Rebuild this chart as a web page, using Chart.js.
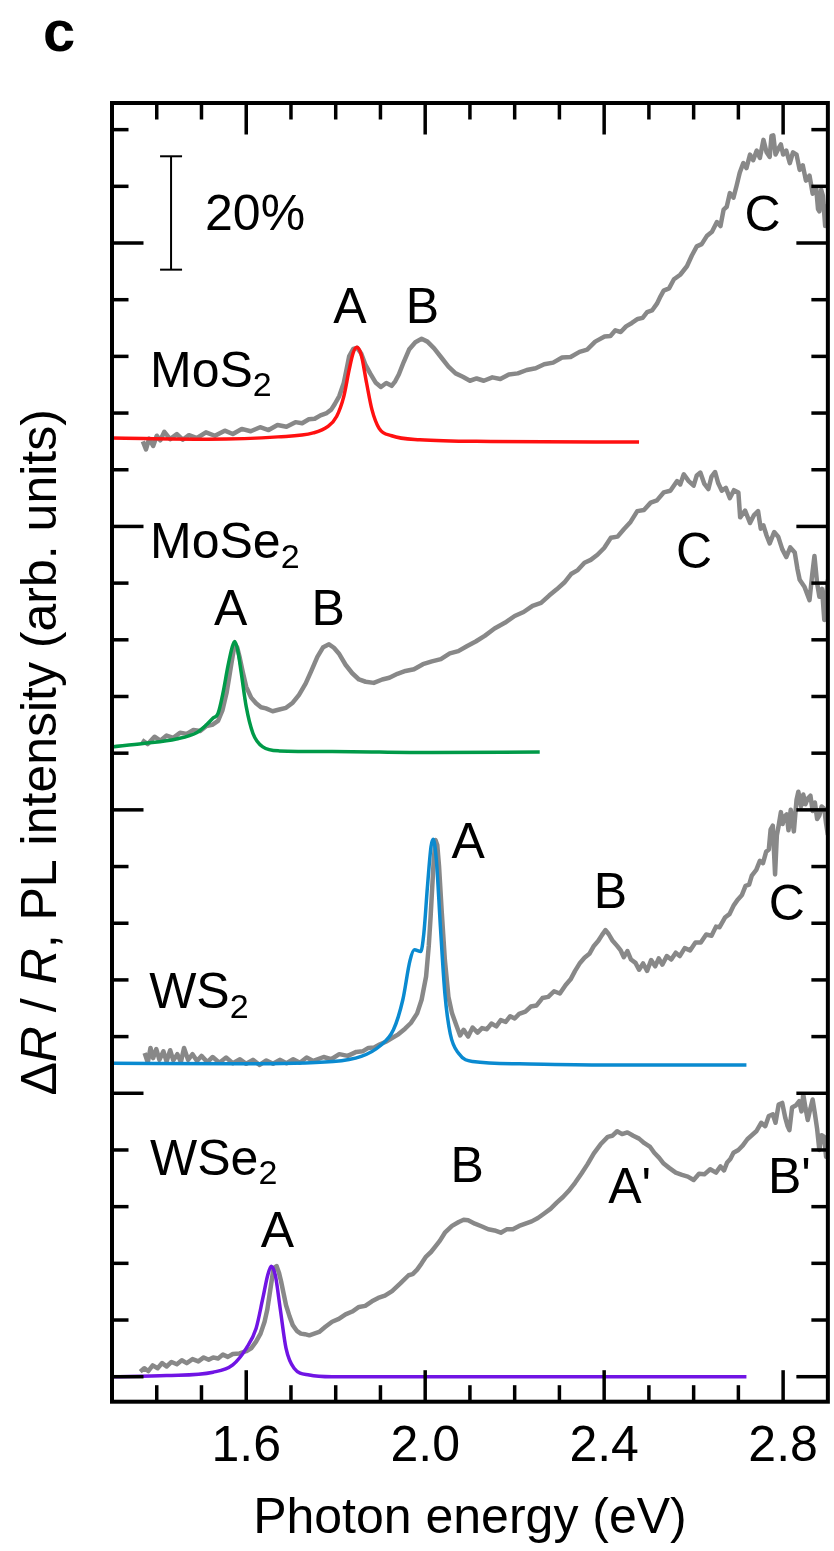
<!DOCTYPE html>
<html>
<head>
<meta charset="utf-8">
<script src="https://cdn.jsdelivr.net/npm/chart.js@4.4.0/dist/chart.umd.min.js"></script>
<style>
  html, body { margin: 0; padding: 0; background: #ffffff; }
  #wrap { width: 834px; height: 1551px; }
  canvas { display: block; }
</style>
</head>
<body>
<div id="wrap"><canvas id="spectra" width="834" height="1551"></canvas></div>
<script>
// Photon energy (eV) vs. signal (%), spectra stacked with vertical offsets.
// Grey: reflectance contrast ΔR/R; coloured: photoluminescence.

const mos2Reflect = [
  [1.369,165.0],[1.376,163.6],[1.383,165.5],[1.392,164.2],[1.400,166.0],[1.408,165.2],
  [1.417,166.7],[1.430,165.4],[1.445,166.3],[1.458,165.3],[1.472,166.1],[1.490,165.6],
  [1.510,166.6],[1.530,166.0],[1.552,166.9],[1.570,166.3],[1.590,167.2],[1.610,166.8],
  [1.631,167.5],[1.650,167.0],[1.670,167.9],[1.690,167.6],[1.710,168.4],[1.725,168.2],
  [1.740,168.9],[1.753,169.0],[1.766,169.6],[1.780,170.0],[1.790,170.6],[1.798,171.6],
  [1.808,173.0],[1.818,175.3],[1.824,177.6],[1.830,180.0],[1.839,181.3],[1.848,181.5],
  [1.857,180.5],[1.866,178.6],[1.877,177.0],[1.889,175.4],[1.901,174.6],[1.913,175.3],
  [1.925,174.8],[1.933,175.6],[1.941,176.8],[1.952,179.0],[1.964,181.2],[1.978,182.5],
  [1.992,183.1],[2.005,182.6],[2.020,181.4],[2.036,179.8],[2.052,178.2],[2.068,177.0],
  [2.084,176.4],[2.100,175.7],[2.115,176.1],[2.131,175.7],[2.150,176.3],[2.168,176.0],
  [2.187,176.8],[2.207,177.0],[2.227,177.6],[2.247,177.9],[2.266,178.6],[2.286,178.9],
  [2.306,179.8],[2.325,179.9],[2.345,180.8],[2.362,181.2],[2.380,182.6],[2.401,183.5],
  [2.414,183.6],[2.425,184.6],[2.437,184.3],[2.449,185.3],[2.462,185.9],[2.475,186.6],
  [2.486,186.8],[2.496,187.8],[2.507,188.1],[2.518,189.3],[2.526,190.6],[2.533,191.6],
  [2.545,192.0],[2.556,193.6],[2.570,194.4],[2.585,195.9],[2.596,197.8],[2.607,199.4],
  [2.618,199.8],[2.630,201.3],[2.641,202.0],[2.652,203.7],[2.660,203.0],[2.667,205.9],
  [2.674,206.4],[2.681,208.8],[2.689,208.0],[2.696,210.1],[2.703,212.4],[2.711,214.1],
  [2.718,213.2],[2.726,215.6],[2.733,214.6],[2.741,216.3],[2.748,215.0],[2.756,218.2],
  [2.763,216.0],[2.770,215.2],[2.774,218.9],[2.778,219.0],[2.783,215.6],[2.789,216.6],
  [2.795,217.4],[2.800,215.6],[2.807,216.3],[2.815,214.1],[2.822,216.0],[2.830,215.6],
  [2.837,212.9],[2.844,213.7],[2.851,211.0],[2.859,211.9],[2.866,208.7],[2.874,209.6],
  [2.878,206.0],[2.881,205.6],[2.885,209.4],[2.889,208.3],[2.894,203.0],[2.897,206.5],
  [2.900,203.5]
];
const mos2PL = [
  [1.300,165.6],[1.512,165.4],[1.671,165.8],[1.750,166.5],[1.782,167.6],[1.802,169.4],
  [1.818,172.9],[1.830,177.6],[1.839,180.6],[1.847,181.6],[1.857,180.3],[1.869,175.3],
  [1.881,170.6],[1.897,167.3],[1.925,166.0],[1.988,165.3],[2.147,165.0],[2.478,164.9]
];

const mose2Reflect = [
  [1.367,112.3],[1.380,111.6],[1.395,112.9],[1.408,112.2],[1.422,113.1],[1.437,112.7],
  [1.452,113.6],[1.467,113.4],[1.482,114.1],[1.497,113.9],[1.511,114.8],[1.524,115.0],
  [1.537,115.7],[1.547,117.6],[1.556,120.6],[1.562,123.4],[1.567,125.9],[1.572,128.2],
  [1.576,129.1],[1.580,128.6],[1.585,127.0],[1.592,124.4],[1.600,121.7],[1.611,119.8],
  [1.622,118.8],[1.633,118.1],[1.644,117.9],[1.659,117.4],[1.674,117.7],[1.689,118.0],
  [1.704,118.9],[1.718,120.3],[1.733,122.3],[1.746,124.6],[1.759,127.0],[1.772,128.7],
  [1.785,129.2],[1.796,128.6],[1.807,127.6],[1.822,125.6],[1.837,124.1],[1.852,123.0],
  [1.867,122.6],[1.885,122.4],[1.904,123.0],[1.920,123.3],[1.938,124.0],[1.956,124.5],
  [1.975,124.8],[1.995,125.7],[2.015,126.2],[2.035,126.6],[2.055,127.6],[2.074,128.0],
  [2.094,128.9],[2.113,129.7],[2.133,130.7],[2.155,132.0],[2.178,133.0],[2.200,134.2],
  [2.220,134.9],[2.240,136.0],[2.259,136.5],[2.277,137.8],[2.294,138.9],[2.311,140.1],
  [2.326,141.6],[2.341,142.3],[2.356,143.6],[2.370,144.1],[2.385,145.0],[2.400,146.2],
  [2.415,148.0],[2.430,148.2],[2.444,149.5],[2.459,150.8],[2.474,152.7],[2.489,152.9],
  [2.504,154.2],[2.518,154.6],[2.533,156.0],[2.548,156.3],[2.563,158.0],[2.570,157.4],
  [2.578,159.2],[2.589,158.0],[2.600,157.2],[2.607,159.0],[2.615,159.5],[2.624,157.5],
  [2.633,156.6],[2.640,158.8],[2.648,159.6],[2.655,157.6],[2.663,156.3],[2.672,156.8],
  [2.681,155.0],[2.690,156.4],[2.700,156.0],[2.704,151.6],[2.715,152.8],[2.726,150.6],
  [2.735,152.0],[2.744,152.7],[2.750,149.6],[2.756,150.2],[2.763,148.4],[2.770,147.0],
  [2.780,149.0],[2.789,148.2],[2.798,146.0],[2.807,144.6],[2.816,146.3],[2.826,145.4],
  [2.832,142.5],[2.837,140.6],[2.848,139.3],[2.859,137.0],[2.865,141.5],[2.870,144.8],
  [2.876,140.0],[2.881,137.6],[2.887,139.0],[2.892,133.5],[2.896,137.5],[2.900,140.6]
];
const mose2PL = [
  [1.300,111.1],[1.370,111.7],[1.444,112.5],[1.489,113.6],[1.511,115.0],[1.526,116.2],
  [1.537,117.0],[1.548,120.6],[1.559,125.3],[1.569,128.8],[1.574,129.7],[1.581,128.2],
  [1.589,124.1],[1.600,118.2],[1.615,113.5],[1.637,111.1],[1.674,110.4],[1.792,110.3],
  [2.015,110.1],[2.256,110.2]
];

const ws2Reflect = [
  [1.373,57.1],[1.380,55.4],[1.386,58.0],[1.392,56.2],[1.399,57.8],[1.406,55.9],
  [1.415,57.4],[1.422,55.6],[1.430,57.6],[1.437,55.8],[1.446,56.9],[1.454,55.5],
  [1.461,58.0],[1.470,55.9],[1.480,56.9],[1.490,55.7],[1.500,56.6],[1.513,55.5],
  [1.525,56.4],[1.540,55.4],[1.555,56.3],[1.570,55.3],[1.586,56.0],[1.600,55.2],
  [1.615,55.9],[1.630,55.0],[1.645,55.8],[1.660,55.2],[1.675,55.9],[1.690,55.3],
  [1.705,56.0],[1.720,55.4],[1.735,56.3],[1.750,55.7],[1.773,56.4],[1.790,56.0],
  [1.808,56.9],[1.827,56.6],[1.846,57.3],[1.860,57.4],[1.873,58.0],[1.886,58.1],
  [1.898,58.6],[1.912,59.1],[1.925,59.7],[1.940,60.4],[1.955,61.4],[1.968,62.4],
  [1.982,64.1],[1.992,66.5],[2.002,70.6],[2.008,76.0],[2.012,81.0],[2.015,85.3],
  [2.019,91.0],[2.023,94.7],[2.027,93.8],[2.031,90.0],[2.037,82.0],[2.044,73.5],
  [2.052,67.0],[2.060,64.1],[2.070,61.9],[2.078,60.2],[2.086,61.2],[2.096,60.0],
  [2.106,61.6],[2.117,60.7],[2.127,61.5],[2.138,61.3],[2.148,62.3],[2.159,61.8],
  [2.169,62.9],[2.180,62.6],[2.190,63.6],[2.200,63.2],[2.210,64.0],[2.224,64.4],
  [2.236,65.3],[2.249,65.5],[2.262,66.8],[2.275,67.0],[2.288,68.0],[2.301,67.6],
  [2.314,69.1],[2.325,70.1],[2.335,71.6],[2.346,73.0],[2.356,73.9],[2.367,74.6],
  [2.377,76.0],[2.387,76.9],[2.395,77.9],[2.403,78.8],[2.410,78.1],[2.418,77.0],
  [2.429,76.0],[2.437,75.2],[2.444,74.0],[2.452,75.1],[2.460,73.6],[2.470,73.0],
  [2.478,71.8],[2.487,72.9],[2.496,71.6],[2.505,73.5],[2.514,72.4],[2.522,73.8],
  [2.530,72.7],[2.540,74.2],[2.550,73.6],[2.560,74.8],[2.569,74.2],[2.580,75.6],
  [2.592,75.2],[2.604,76.6],[2.616,76.6],[2.628,78.0],[2.640,77.8],[2.650,79.4],
  [2.658,79.3],[2.670,81.0],[2.680,81.6],[2.690,83.2],[2.699,84.2],[2.708,85.0],
  [2.716,86.6],[2.724,86.8],[2.730,88.4],[2.740,89.4],[2.748,91.0],[2.755,90.6],
  [2.762,92.6],[2.768,93.0],[2.772,96.5],[2.777,97.2],[2.780,92.0],[2.782,88.6],
  [2.786,95.5],[2.790,97.2],[2.795,99.6],[2.799,97.5],[2.803,98.8],[2.808,99.2],
  [2.812,96.4],[2.817,100.0],[2.824,96.2],[2.830,101.8],[2.834,103.2],[2.840,100.6],
  [2.845,102.7],[2.850,101.0],[2.855,102.0],[2.861,102.5],[2.866,99.8],[2.871,101.3],
  [2.876,98.4],[2.881,99.0],[2.886,100.6],[2.892,100.2],[2.896,97.6],[2.900,95.6]
];
const ws2PL = [
  [1.300,55.3],[1.586,55.2],[1.794,55.6],[1.857,56.5],[1.898,58.3],[1.929,61.2],
  [1.950,66.5],[1.966,73.4],[1.976,75.3],[1.990,75.0],[1.997,78.2],[2.005,86.4],
  [2.013,93.5],[2.018,94.8],[2.025,91.1],[2.034,79.4],[2.044,67.6],[2.056,60.5],
  [2.075,57.0],[2.106,55.6],[2.210,55.2],[2.418,55.0],[2.718,55.0]
];

const wse2Reflect = [
  [1.363,0.9],[1.372,1.5],[1.381,1.0],[1.391,2.0],[1.402,1.5],[1.412,2.4],
  [1.422,1.8],[1.433,2.6],[1.445,2.2],[1.456,2.9],[1.467,2.4],[1.480,3.1],
  [1.493,2.7],[1.505,3.4],[1.516,3.0],[1.526,3.4],[1.537,3.2],[1.548,3.9],
  [1.559,3.5],[1.570,4.0],[1.585,4.1],[1.600,4.5],[1.611,5.0],[1.622,6.2],
  [1.632,7.6],[1.641,9.7],[1.647,11.8],[1.652,14.4],[1.657,17.0],[1.661,19.1],
  [1.668,19.5],[1.673,18.4],[1.678,16.8],[1.684,14.5],[1.689,12.6],[1.697,10.6],
  [1.704,9.1],[1.713,8.1],[1.722,7.6],[1.731,7.5],[1.741,7.3],[1.752,7.6],
  [1.763,7.9],[1.777,8.8],[1.792,9.7],[1.807,10.2],[1.822,11.0],[1.837,11.5],
  [1.852,12.3],[1.866,12.5],[1.881,13.3],[1.895,13.9],[1.910,14.3],[1.926,15.1],
  [1.945,16.5],[1.963,17.9],[1.972,18.1],[1.982,18.9],[1.992,20.0],[2.002,21.2],
  [2.013,22.0],[2.023,23.0],[2.033,24.0],[2.044,25.4],[2.060,26.6],[2.075,27.3],
  [2.086,27.7],[2.096,27.6],[2.111,27.0],[2.127,26.5],[2.141,26.0],[2.155,25.8],
  [2.169,25.4],[2.182,26.0],[2.196,26.0],[2.210,26.6],[2.224,27.0],[2.238,27.4],
  [2.252,28.0],[2.266,28.8],[2.280,29.6],[2.294,30.7],[2.308,31.7],[2.321,32.8],
  [2.335,34.2],[2.349,35.8],[2.363,37.5],[2.377,39.4],[2.392,41.0],[2.408,42.3],
  [2.418,42.5],[2.429,43.3],[2.440,42.8],[2.452,43.1],[2.465,42.5],[2.478,42.0],
  [2.490,41.2],[2.502,40.6],[2.512,39.5],[2.523,38.6],[2.533,37.6],[2.546,36.8],
  [2.560,36.0],[2.574,35.6],[2.587,35.3],[2.600,34.7],[2.612,35.8],[2.624,35.7],
  [2.637,36.6],[2.650,36.0],[2.660,37.1],[2.668,36.4],[2.675,37.8],[2.682,38.4],
  [2.689,39.5],[2.700,40.0],[2.710,40.8],[2.720,41.9],[2.730,42.6],[2.740,43.3],
  [2.751,44.8],[2.760,44.2],[2.768,46.0],[2.777,46.3],[2.783,44.8],[2.790,48.0],
  [2.798,48.3],[2.805,45.6],[2.810,44.2],[2.814,43.5],[2.820,47.5],[2.829,47.9],
  [2.836,48.6],[2.841,46.8],[2.845,49.8],[2.850,47.4],[2.855,45.3],[2.860,47.0],
  [2.866,48.9],[2.871,46.4],[2.876,43.7],[2.881,40.0],[2.886,42.6],[2.892,42.3],
  [2.896,38.8],[2.900,40.6]
];
const wse2PL = [
  [1.300,0.0],[1.422,0.2],[1.526,0.8],[1.570,2.1],[1.600,5.0],[1.622,8.5],
  [1.637,13.8],[1.648,17.9],[1.656,19.5],[1.665,17.9],[1.676,12.0],[1.689,5.0],
  [1.707,1.5],[1.741,0.3],[1.792,0.0],[2.718,0.0]
];

// Axis ticks
const energyLabels = [1.6, 2.0, 2.4, 2.8];
const energyMinor = [1.4, 1.5, 1.6, 1.7, 1.8, 1.9, 2.0, 2.1, 2.2, 2.3, 2.4, 2.5, 2.6, 2.7, 2.8];
const signalTicks = [0, 10, 20, 30, 40, 50, 60, 70, 80, 90, 100, 110, 120, 130, 140, 150,
                     160, 170, 180, 190, 200, 210, 220];
const signalMajor = [0, 50, 100, 150, 200];

// Text annotations: [label, energy, signal]
const materialNames = [['MoS', 1.385, 174.6], ['MoSe', 1.385, 144.4], ['WS', 1.383, 65.0], ['WSe', 1.385, 35.6]];
const peakNames = [
  ['A', 1.832, 185.9], ['B', 1.994, 185.9], ['C', 2.754, 202.1],
  ['A', 1.565, 132.6], ['B', 1.783, 132.6], ['C', 2.601, 142.7],
  ['A', 2.096, 91.5],  ['B', 2.414, 82.7],  ['C', 2.808, 80.6],
  ['A', 1.670, 22.9],  ['B', 2.094, 34.4],  ["A'", 2.457, 30.6], ["B'", 2.814, 32.4]
];
const scaleBar = { energy: 1.432, from: 195.3, to: 215.3, label: '20%', labelEnergy: 1.508, labelSignal: 202.3 };

const FONT = "'Liberation Sans', Arial, Helvetica, sans-serif";
const GREY = '#888888';
const TEXT_SIZE = 50;

const pts = arr => arr.map(([x, y]) => ({ x, y }));
const line = (data, color, width, order, smooth) => ({
  data: pts(data), borderColor: color, borderWidth: width, order,
  pointRadius: 0, fill: false, tension: 0, borderJoinStyle: 'round',
  cubicInterpolationMode: smooth ? 'monotone' : 'default'
});

const decorations = {
  id: 'decorations',
  afterDatasetsDraw(chart) {
    const { ctx, chartArea: a, scales: { x, y } } = chart;
    ctx.save();
    ctx.strokeStyle = '#000';
    ctx.fillStyle = '#000';

    // inward tick marks on all four sides
    ctx.lineWidth = 3.5;
    ctx.lineCap = 'butt';
    const seg = (x1, y1, x2, y2) => { ctx.beginPath(); ctx.moveTo(x1, y1); ctx.lineTo(x2, y2); ctx.stroke(); };
    energyMinor.forEach(v => {
      const px = x.getPixelForValue(v);
      const len = energyLabels.some(m => Math.abs(m - v) < 1e-6) ? 31.5 : 16.5;
      seg(px, a.bottom, px, a.bottom - len);
      seg(px, a.top, px, a.top + len);
    });
    signalTicks.forEach(v => {
      const py = y.getPixelForValue(v);
      const len = signalMajor.includes(v) ? 31.5 : 16.5;
      seg(a.left, py, a.left + len, py);
      seg(a.right, py, a.right - len, py);
    });

    // frame
    ctx.lineWidth = 4;
    ctx.strokeRect(a.left, a.top, a.right - a.left, a.bottom - a.top);

    // 20 % scale bar
    ctx.lineWidth = 2;
    const bx = x.getPixelForValue(scaleBar.energy);
    const b1 = y.getPixelForValue(scaleBar.from);
    const b2 = y.getPixelForValue(scaleBar.to);
    seg(bx, b1, bx, b2);
    seg(bx - 11, b1, bx + 11, b1);
    seg(bx - 11, b2, bx + 11, b2);
    ctx.font = `${TEXT_SIZE}px ${FONT}`;
    ctx.textBaseline = 'alphabetic';
    ctx.textAlign = 'left';
    ctx.fillText(scaleBar.label, x.getPixelForValue(scaleBar.labelEnergy), y.getPixelForValue(scaleBar.labelSignal));

    // material names with subscript 2
    materialNames.forEach(([name, e, s]) => {
      const px = x.getPixelForValue(e), py = y.getPixelForValue(s);
      ctx.font = `${TEXT_SIZE}px ${FONT}`;
      ctx.textAlign = 'left';
      ctx.fillText(name, px, py);
      const w = ctx.measureText(name).width;
      ctx.font = `34px ${FONT}`;
      ctx.fillText('2', px + w, py + 9.5);
    });

    // exciton labels
    ctx.font = `${TEXT_SIZE}px ${FONT}`;
    ctx.textAlign = 'center';
    peakNames.forEach(([t, e, s]) => {
      ctx.fillText(t, x.getPixelForValue(e), y.getPixelForValue(s));
    });

    // vertical axis title with italic R
    const runs = [['Δ', false], ['R', true], [' / ', false], ['R', true], [', PL intensity (arb. units)', false]];
    const fontOf = it => `${it ? 'italic ' : ''}${TEXT_SIZE}px ${FONT}`;
    let total = 0;
    runs.forEach(([t, it]) => { ctx.font = fontOf(it); total += ctx.measureText(t).width; });
    ctx.save();
    ctx.translate(42, (a.top + a.bottom) / 2);
    ctx.rotate(-Math.PI / 2);
    ctx.textAlign = 'left';
    ctx.textBaseline = 'middle';
    let cx = -total / 2;
    runs.forEach(([t, it]) => {
      ctx.font = fontOf(it);
      ctx.fillText(t, cx, 0);
      cx += ctx.measureText(t).width;
    });
    ctx.restore();

    // panel letter
    ctx.font = `bold 58px ${FONT}`;
    ctx.textAlign = 'left';
    ctx.textBaseline = 'alphabetic';
    ctx.fillText('c', 43, 51);
    ctx.restore();
  }
};

new Chart(document.getElementById('spectra'), {
  type: 'line',
  data: {
    datasets: [
      line(mos2PL, '#ff1010', 3.5, 1, true),
      line(mose2PL, '#009a48', 3.5, 1, true),
      line(ws2PL, '#0a8ad0', 3.5, 1, true),
      line(wse2PL, '#7014e4', 3.5, 1, true),
      line(mos2Reflect, GREY, 4.5, 2, false),
      line(mose2Reflect, GREY, 4.5, 2, false),
      line(ws2Reflect, GREY, 4.5, 2, false),
      line(wse2Reflect, GREY, 4.5, 2, false)
    ]
  },
  options: {
    responsive: false,
    animation: false,
    devicePixelRatio: 1,
    layout: { padding: { left: 112, right: 2, top: 103, bottom: 0 }, autoPadding: false },
    plugins: { legend: { display: false }, tooltip: { enabled: false } },
    scales: {
      x: {
        type: 'linear',
        position: 'bottom',
        min: 1.3,
        max: 2.9,
        afterBuildTicks: axis => { axis.ticks = energyLabels.map(v => ({ value: v })); },
        afterFit: axis => { axis.height = 149.3; },
        grid: { display: false, drawTicks: false },
        border: { display: false },
        ticks: {
          color: '#000',
          padding: 16,
          maxRotation: 0,
          autoSkip: false,
          font: { family: FONT, size: TEXT_SIZE },
          callback: v => Number(v).toFixed(1)
        },
        title: {
          display: true,
          text: 'Photon energy (eV)',
          color: '#000',
          font: { family: FONT, size: TEXT_SIZE },
          padding: { top: 0, bottom: 2 }
        }
      },
      y: {
        type: 'linear',
        display: false,
        min: -4.41,
        max: 224.7
      }
    }
  },
  plugins: [decorations]
});
</script>
</body>
</html>
